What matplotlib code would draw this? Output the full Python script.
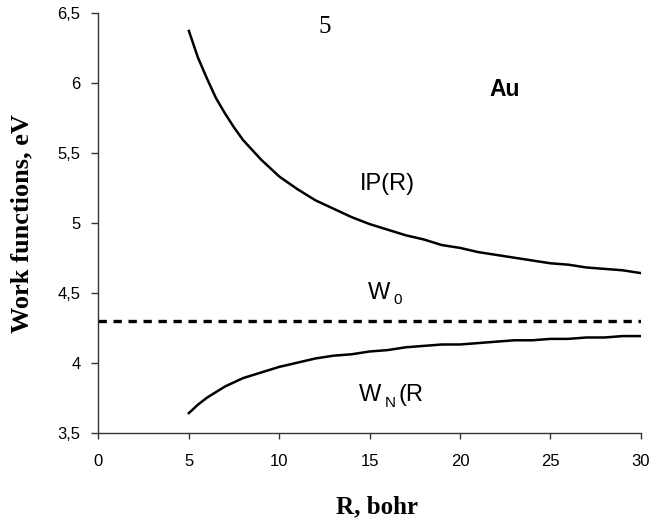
import numpy as np
import matplotlib
matplotlib.use("Agg")
import matplotlib.pyplot as plt

# (R in bohr, energies in eV)
r_vals = [5, 5.5, 6, 6.5, 7, 7.5, 8, 8.5, 9, 9.5, 10, 11, 12, 13, 14, 15,
          16, 17, 18, 19, 20, 21, 22, 23, 24, 25, 26, 27, 28, 29, 30]
ip_vals = [6.37, 6.18, 6.03, 5.89, 5.78, 5.68, 5.59, 5.52, 5.45, 5.39, 5.33,
           5.24, 5.16, 5.10, 5.04, 4.99, 4.95, 4.91, 4.88, 4.84, 4.82, 4.79,
           4.77, 4.75, 4.73, 4.71, 4.70, 4.68, 4.67, 4.66, 4.64]
wn_vals = [3.64, 3.70, 3.75, 3.79, 3.83, 3.86, 3.89, 3.91, 3.93, 3.95, 3.97,
           4.00, 4.03, 4.05, 4.06, 4.08, 4.09, 4.11, 4.12, 4.13, 4.13, 4.14,
           4.15, 4.16, 4.16, 4.17, 4.17, 4.18, 4.18, 4.19, 4.19]
w0 = 4.3

x_ticks = [0, 5, 10, 15, 20, 25, 30]
y_ticks = [3.5, 4, 4.5, 5, 5.5, 6, 6.5]
y_labels = ["3,5", "4", "4,5", "5", "5,5", "6", "6,5"]

sans = "Liberation Sans"
serif = "Liberation Serif"

fig = plt.figure(figsize=(6.51, 5.26), dpi=100)
ax = fig.add_axes([0.1513, 0.1774, 0.8329, 0.7985])

ax.plot(r_vals, ip_vals, color="black", lw=1.8)
ax.plot(r_vals, wn_vals, color="black", lw=1.8)
ax.plot([x_ticks[0], x_ticks[-1]], [w0, w0], color="black", lw=2.4,
        dashes=(2.5, 2.0))

ax.set_xlim(0, 30)
ax.set_ylim(3.5, 6.5)
ax.set_xticks(x_ticks)
ax.set_xticklabels([str(t) for t in x_ticks])
ax.set_yticks(y_ticks)
ax.set_yticklabels(y_labels)

for s in ["top", "right"]:
    ax.spines[s].set_visible(False)
for s in ["left", "bottom"]:
    ax.spines[s].set_color("#333333")
    ax.spines[s].set_linewidth(1.0)
ax.tick_params(axis="x", direction="out", length=4, width=1.0,
               color="#333333", pad=11)
ax.tick_params(axis="y", direction="out", length=5, width=1.0,
               color="#333333", pad=8)
for lab in ax.get_xticklabels() + ax.get_yticklabels():
    lab.set_fontfamily(sans)
    lab.set_fontsize(12)

# annotations inside the plot
ax.text(12.53, 6.40, "5", family=serif, fontsize=18, ha="center", va="center")
ax.text(22.47, 5.95, "Au", family=sans, fontsize=16.5, fontweight="bold",
        ha="center", va="center")
ax.text(16.0, 5.276, "IP(R)", family=sans, fontsize=17, ha="center",
        va="center")
ax.text(14.91, 4.498, "W", family=sans, fontsize=17, ha="left", va="center")
ax.text(16.30, 4.448, "0", family=sans, fontsize=11, ha="left", va="center")
ax.text(14.41, 3.77, "W", family=sans, fontsize=17, ha="left", va="center")
ax.text(15.84, 3.712, "N", family=sans, fontsize=11, ha="left", va="center")
ax.text(16.60, 3.77, "(R", family=sans, fontsize=17, ha="left", va="center")

# axis titles
fig.text(22 / 651, 1 - 224 / 526, "Work functions, eV", family=serif,
         fontsize=19, fontweight="bold", rotation=90, ha="center",
         va="center")
fig.text(377 / 651, 1 - 507 / 526, "R, bohr", family=serif, fontsize=18,
         fontweight="bold", ha="center", va="center")

fig.savefig("out.png", dpi=100)
